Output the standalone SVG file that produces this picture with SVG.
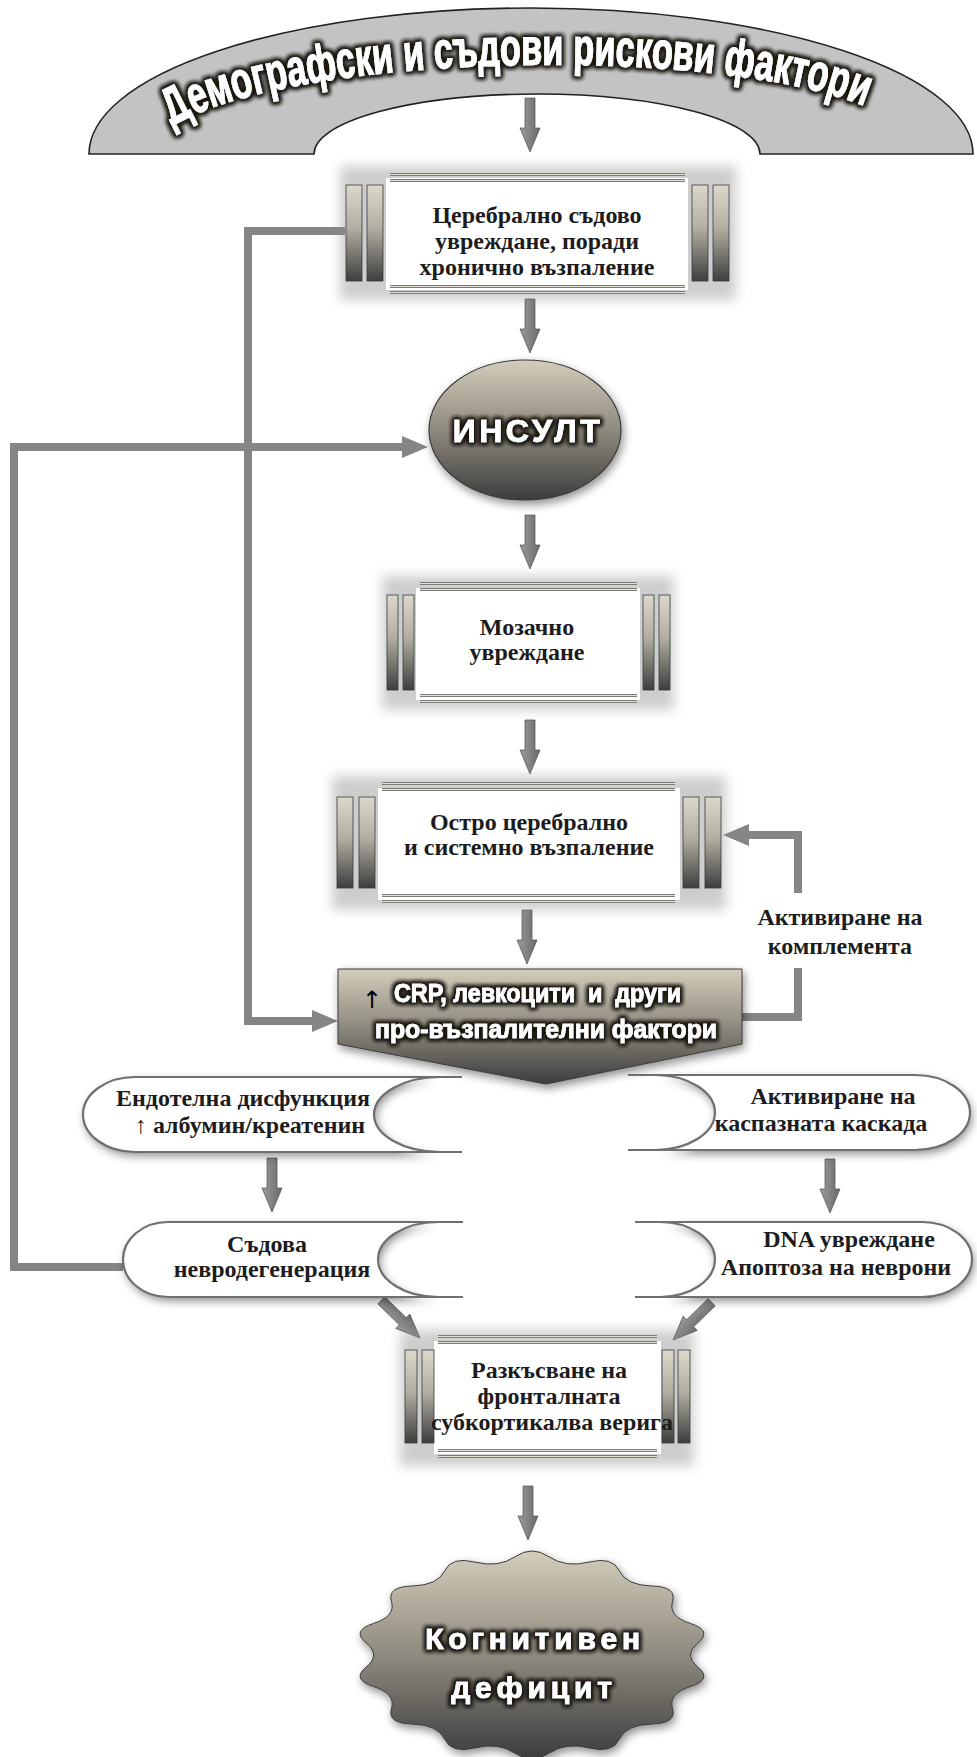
<svg xmlns="http://www.w3.org/2000/svg" width="977" height="1757" viewBox="0 0 977 1757">
<defs>
  <style>
    .lbl{font-family:"Liberation Serif","Times New Roman",serif;font-weight:bold;font-size:24px;fill:#1c1c1c;text-anchor:middle}
    .hdr{font-family:"Liberation Sans",Arial,sans-serif;font-weight:bold;fill:#fff;stroke:#fff;stroke-width:0.7;text-anchor:middle}
    .bar{fill:url(#gBar)}
    .pil{fill:url(#gPil);stroke:#3a3a3a;stroke-width:0.8}
    .body{fill:#fff}
    .halo{fill:#8a8a8a;opacity:0.42;filter:url(#blur6)}
    .scroll{fill:#fff;filter:url(#shadow)}
    .scrollLine{fill:none;stroke:#6f6f6f;stroke-width:2.2}
    .link{fill:none;stroke:#858585;stroke-width:8}
    .arr{fill:url(#gArr);stroke:#4d4d4d;stroke-width:0.7}
  </style>
  <linearGradient id="gBar" x1="0" y1="0" x2="0" y2="1">
    <stop offset="0" stop-color="#3a3a3a"/>
    <stop offset="0.4" stop-color="#d8d5ca"/>
    <stop offset="0.6" stop-color="#eeece5"/>
    <stop offset="1" stop-color="#2c2c2c"/>
  </linearGradient>
  <linearGradient id="gPil" x1="0" y1="0" x2="0" y2="1">
    <stop offset="0" stop-color="#dcd8cb"/>
    <stop offset="0.45" stop-color="#b2aea2"/>
    <stop offset="1" stop-color="#3e3e3e"/>
  </linearGradient>
  <linearGradient id="gShape" x1="0" y1="0" x2="0" y2="1">
    <stop offset="0" stop-color="#d3cdbb"/>
    <stop offset="0.5" stop-color="#8f8a7f"/>
    <stop offset="1" stop-color="#3c3c3c"/>
  </linearGradient>
  <linearGradient id="gArr" x1="0" y1="0" x2="1" y2="0">
    <stop offset="0" stop-color="#9c9c9c"/>
    <stop offset="1" stop-color="#696969"/>
  </linearGradient>
  <filter id="blur6" x="-20%" y="-20%" width="140%" height="140%">
    <feGaussianBlur stdDeviation="6"/>
  </filter>
  <filter id="shadow" x="-15%" y="-25%" width="130%" height="160%">
    <feGaussianBlur in="SourceAlpha" stdDeviation="5"/>
    <feOffset dx="2" dy="4"/>
    <feComponentTransfer><feFuncA type="linear" slope="0.45"/></feComponentTransfer>
    <feMerge><feMergeNode/><feMergeNode in="SourceGraphic"/></feMerge>
  </filter>
  <filter id="glow" x="-20%" y="-50%" width="140%" height="200%">
    <feMorphology in="SourceAlpha" operator="dilate" radius="1.5" result="d"/>
    <feGaussianBlur in="d" stdDeviation="2" result="b"/>
    <feFlood flood-color="#1c1810"/>
    <feComposite in2="b" operator="in" result="s"/>
    <feMerge><feMergeNode in="s"/><feMergeNode in="s"/><feMergeNode in="SourceGraphic"/></feMerge>
  </filter>
  <marker id="mk" markerUnits="userSpaceOnUse" markerWidth="28" markerHeight="24" refX="8" refY="12" orient="auto">
    <path d="M0,1 L26,12 L0,23 Z" fill="#858585"/>
  </marker>
  <!-- short block arrow pointing down, tip at origin -->
  <path id="arrow" class="arr" d="M-5,-54 L5,-54 L5,-24 L10,-24 L0,0 L-10,-24 L-5,-24 Z"/>
  <path id="archPath" d="M172,126 C300,50 740,44 878,112"/>
</defs>

<rect width="977" height="1757" fill="#fff"/>

<!-- connectors -->
<g id="connectors">
  <path class="link" d="M123,1267 H14 V447 H410" marker-end="url(#mk)"/>
  <path class="link" d="M345,231 H248 V1021 H320" marker-end="url(#mk)"/>
  <path class="link" d="M742,1017 H798 V968"/>
  <path class="link" d="M798,893 V835 H741" marker-end="url(#mk)"/>
  <use href="#arrow" x="530" y="152"/>
  <use href="#arrow" x="530" y="353"/>
  <use href="#arrow" x="530" y="569"/>
  <use href="#arrow" x="530" y="774"/>
  <use href="#arrow" x="527" y="964"/>
  <use href="#arrow" x="272" y="1212"/>
  <use href="#arrow" x="830" y="1213"/>
  <use href="#arrow" transform="translate(420,1338) rotate(-45.8)"/>
  <use href="#arrow" transform="translate(673,1340) rotate(45.7)"/>
  <use href="#arrow" x="528" y="1540"/>
</g>

<!-- risk factors arch -->
<g id="n-risk">
  <path d="M89,154 A442,146 0 0 1 973,154 L760,154 A223,60 0 0 0 314,154 Z" fill="#c3c3c3" stroke="#222" stroke-width="1.6"/>
  <text class="hdr" font-size="52" style="text-anchor:start;stroke-width:1" filter="url(#glow)"><textPath href="#archPath" textLength="705" lengthAdjust="spacingAndGlyphs">Демографски и съдови рискови фактори</textPath></text>
</g>

<!-- chronic vascular damage -->
<g id="n-chronic">
  <rect class="halo" x="340" y="166" width="396" height="134"/>
  <rect class="body" x="386" y="178" width="302" height="112"/>
  <rect class="bar" x="390" y="173" width="295" height="3"/>
  <rect class="bar" x="390" y="179" width="295" height="3"/>
  <rect class="bar" x="390" y="285" width="295" height="3"/>
  <rect class="bar" x="390" y="291" width="295" height="3"/>
  <rect class="pil" x="346" y="185" width="16" height="96"/>
  <rect class="pil" x="367" y="185" width="16" height="96"/>
  <rect class="pil" x="692" y="185" width="16" height="96"/>
  <rect class="pil" x="713" y="185" width="16" height="96"/>
  <text class="lbl" x="537" y="223">Церебрално съдово</text>
  <text class="lbl" x="537" y="249">увреждане, поради</text>
  <text class="lbl" x="537" y="275">хронично възпаление</text>
</g>

<!-- stroke -->
<g id="n-stroke">
  <ellipse cx="525" cy="430" rx="96" ry="70" fill="url(#gShape)" stroke="#3a3a3a" stroke-width="1.2" filter="url(#shadow)"/>
  <text class="hdr" x="528" y="442" font-size="32" letter-spacing="3.5" filter="url(#glow)">ИНСУЛТ</text>
</g>

<!-- brain damage -->
<g id="n-brain">
  <rect class="halo" x="382" y="576" width="292" height="134"/>
  <rect class="body" x="416" y="588" width="224" height="112"/>
  <rect class="bar" x="420" y="582" width="217" height="3"/>
  <rect class="bar" x="420" y="588" width="217" height="3"/>
  <rect class="bar" x="420" y="694" width="217" height="3"/>
  <rect class="bar" x="420" y="700" width="217" height="3"/>
  <rect class="pil" x="387" y="595" width="11" height="95"/>
  <rect class="pil" x="403" y="595" width="11" height="95"/>
  <rect class="pil" x="643" y="595" width="11" height="95"/>
  <rect class="pil" x="659" y="595" width="11" height="95"/>
  <text class="lbl" x="527" y="635">Мозачно</text>
  <text class="lbl" x="527" y="660">увреждане</text>
</g>

<!-- acute inflammation -->
<g id="n-acute">
  <rect class="halo" x="332" y="776" width="394" height="134"/>
  <rect class="body" x="378" y="788" width="302" height="112"/>
  <rect class="bar" x="382" y="782" width="293" height="3"/>
  <rect class="bar" x="382" y="788" width="293" height="3"/>
  <rect class="bar" x="382" y="894" width="293" height="3"/>
  <rect class="bar" x="382" y="900" width="293" height="3"/>
  <rect class="pil" x="337" y="797" width="16" height="91"/>
  <rect class="pil" x="359" y="797" width="16" height="91"/>
  <rect class="pil" x="683" y="797" width="16" height="91"/>
  <rect class="pil" x="705" y="797" width="16" height="91"/>
  <text class="lbl" x="529" y="830">Остро церебрално</text>
  <text class="lbl" x="529" y="855">и системно възпаление</text>
</g>

<!-- complement activation label -->
<g id="n-complement">
  <text class="lbl" x="840" y="925">Активиране на</text>
  <text class="lbl" x="840" y="954">комплемента</text>
</g>

<!-- CRP and pro-inflammatory factors -->
<g id="n-crp">
  <path d="M338,969 H742 V1044 L546,1084 L338,1044 Z" fill="url(#gShape)" stroke="#3a3a3a" stroke-width="1" filter="url(#shadow)"/>
  <text x="372" y="1008" font-family="DejaVu Sans,sans-serif" font-size="24" fill="#000" text-anchor="middle">↑</text>
  <text class="hdr" x="394" y="1002" font-size="25" style="text-anchor:start" textLength="287" lengthAdjust="spacingAndGlyphs" filter="url(#glow)" xml:space="preserve">CRP, левкоцити  и  други</text>
  <text class="hdr" x="375" y="1038" font-size="25" style="text-anchor:start" textLength="342" lengthAdjust="spacingAndGlyphs" filter="url(#glow)">про-възпалителни фактори</text>
</g>

<!-- endothelial dysfunction -->
<g id="n-endo">
  <path class="scroll" d="M440,1077 H135 A52,37.5 0 0 0 135,1152 H440 A66,37.5 0 0 1 440,1077 Z"/>
  <path class="scrollLine" d="M462,1077 H135 A52,37.5 0 0 0 135,1152 H462 M440,1077 A66,37.5 0 0 0 440,1152"/>
  <text class="lbl" x="243" y="1106">Ендотелна дисфункция</text>
  <text class="lbl" x="250" y="1133">↑ албумин/креатенин</text>
</g>

<!-- caspase cascade -->
<g id="n-caspase">
  <path class="scroll" d="M655,1075 H915 A55,37.5 0 0 1 915,1150 H655 A60,37.5 0 0 0 655,1075 Z"/>
  <path class="scrollLine" d="M628,1075 H915 A55,37.5 0 0 1 915,1150 H628 M655,1075 A60,37.5 0 0 1 655,1150"/>
  <text class="lbl" x="833" y="1104">Активиране на</text>
  <text class="lbl" x="821" y="1131">каспазната каскада</text>
</g>

<!-- vascular neurodegeneration -->
<g id="n-neurodeg">
  <path class="scroll" d="M438,1222 H168 A45,37.5 0 0 0 168,1297 H438 A60,37.5 0 0 1 438,1222 Z"/>
  <path class="scrollLine" d="M463,1222 H168 A45,37.5 0 0 0 168,1297 H463 M438,1222 A60,37.5 0 0 0 438,1297"/>
  <text class="lbl" x="267" y="1252">Съдова</text>
  <text class="lbl" x="272" y="1277">невродегенерация</text>
</g>

<!-- DNA damage / apoptosis -->
<g id="n-apoptosis">
  <path class="scroll" d="M660,1222 H922 A50,37.5 0 0 1 922,1297 H660 A55,37.5 0 0 0 660,1222 Z"/>
  <path class="scrollLine" d="M635,1222 H922 A50,37.5 0 0 1 922,1297 H635 M660,1222 A55,37.5 0 0 1 660,1297"/>
  <text class="lbl" x="849" y="1247">DNA увреждане</text>
  <text class="lbl" x="836" y="1275">Апоптоза на неврони</text>
</g>

<!-- frontal-subcortical circuit disruption -->
<g id="n-circuit">
  <rect class="halo" x="400" y="1330" width="294" height="136"/>
  <rect class="body" x="434" y="1341" width="227" height="113"/>
  <rect class="bar" x="438" y="1335" width="219" height="3"/>
  <rect class="bar" x="438" y="1341" width="219" height="3"/>
  <rect class="bar" x="438" y="1449" width="219" height="3"/>
  <rect class="bar" x="438" y="1455" width="219" height="3"/>
  <rect class="pil" x="405" y="1350" width="12" height="93"/>
  <rect class="pil" x="422" y="1350" width="12" height="93"/>
  <rect class="pil" x="662" y="1350" width="12" height="93"/>
  <rect class="pil" x="678" y="1350" width="12" height="93"/>
  <text class="lbl" x="549" y="1378">Разкъсване на</text>
  <text class="lbl" x="549" y="1404">фронталната</text>
  <text class="lbl" x="552" y="1430">субкортикалва верига</text>
</g>

<!-- cognitive deficit -->
<g id="n-deficit">
  <path d="M515.2,1556.65 Q532,1545.3 548.8,1556.65 T589.05,1562.1 T619.3,1570.75 T651.6,1585.95 T672.55,1601.45 T690.45,1623.45 T697.9,1642.8 T697.9,1667.2 T690.45,1686.55 T672.55,1708.55 T651.6,1724.05 T619.3,1739.25 T589.05,1747.9 T548.8,1753.35 T515.2,1753.35 T474.95,1747.9 T444.7,1739.25 T412.4,1724.05 T391.45,1708.55 T373.55,1686.55 T366.1,1667.2 T366.1,1642.8 T373.55,1623.45 T391.45,1601.45 T412.4,1585.95 T444.7,1570.75 T474.95,1562.1 T515.2,1556.65 Z" fill="url(#gShape)" stroke="#3a3a3a" stroke-width="1" filter="url(#shadow)"/>
  <text class="hdr" x="535" y="1649" font-size="30" letter-spacing="4.8" filter="url(#glow)">Когнитивен</text>
  <text class="hdr" x="534" y="1698" font-size="30" letter-spacing="4.8" filter="url(#glow)">дефицит</text>
</g>
</svg>
